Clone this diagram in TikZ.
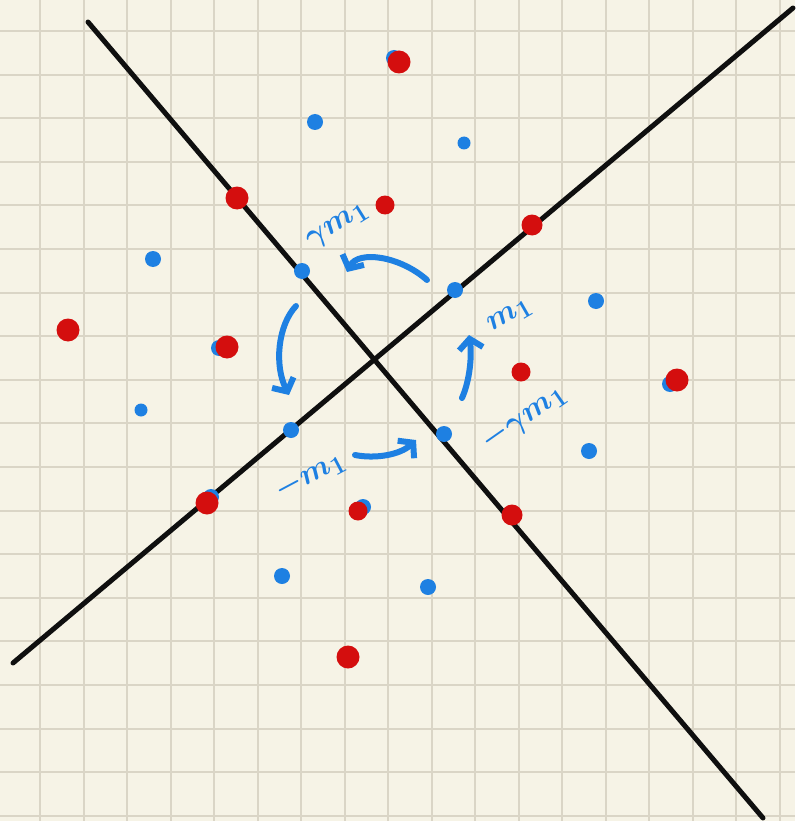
\documentclass[tikz,border=0pt]{standalone}
\usepackage{tikz}
\usetikzlibrary{arrows.meta}
\definecolor{Paper}{RGB}{246,243,230}
\definecolor{Grid}{RGB}{218,213,198}
\definecolor{Ink}{RGB}{15,15,15}
\definecolor{Pen}{RGB}{30,128,226}
\definecolor{Dot}{RGB}{212,14,14}

\begin{document}
\begin{tikzpicture}[x=1pt,y=1pt,
 rd/.style={circle,fill=Dot,inner sep=0pt,minimum size=23pt},
 bd/.style={circle,fill=Pen,inner sep=0pt,minimum size=16pt},
 ax/.style={line width=5pt,Ink,line cap=round},
 sw/.style={-{Straight Barb[length=10pt,width=24pt]},line width=6pt,Pen,line cap=round},
 lab/.style={Pen,inner sep=0pt,scale=1.25,transform shape,font=\Huge\boldmath}]
\fill[Paper] (0,0) rectangle (795,-821);
\useasboundingbox (0,0) rectangle (795,-821);
% squared paper
\foreach \i in {0,...,17} \draw[Grid,line width=2pt] (40+43.5*\i,0) -- (40+43.5*\i,-821);
\foreach \j in {0,...,18} \draw[Grid,line width=2pt] (0,-31-43.6*\j) -- (795,-31-43.6*\j);
% the two lines
\coordinate (a0) at (88,-22); \coordinate (a1) at (763,-818);
\coordinate (b0) at (13,-663); \coordinate (b1) at (793,-8);
\draw[ax] (a0) -- (a1);
\draw[ax] (b0) -- (b1);
% blue points
\node[bd] (b1p) at (315,-122) {};
\node[bd,minimum size=13pt] (b2p) at (464,-143) {};
\node[bd] (b3p) at (153,-259) {};
\node[bd] (b4p) at (302,-271) {};
\node[bd] (b5p) at (455,-290) {};
\node[bd] (b6p) at (596,-301) {};
\node[bd,minimum size=13pt] (b7p) at (141,-410) {};
\node[bd] (b8p) at (291,-430) {};
\node[bd] (b9p) at (444,-434) {};
\node[bd] (b10p) at (589,-451) {};
\node[bd] (b11p) at (282,-576) {};
\node[bd] (b12p) at (428,-587) {};
% blue under red
\node[bd] (s1) at (394,-58) {};
\node[bd] (s2) at (219,-348) {};
\node[bd] (s3) at (670,-384) {};
\node[bd] (s4) at (211,-497) {};
\node[bd] (s5) at (363,-507) {};
% red points
\node[rd] (r1) at (399,-62) {};
\node[rd] (r2) at (237,-198) {};
\node[rd,minimum size=19pt] (r3) at (385,-205) {};
\node[rd,minimum size=21pt] (r4) at (532,-225) {};
\node[rd] (r5) at (68,-330) {};
\node[rd] (r6) at (227,-347) {};
\node[rd,minimum size=19pt] (r7) at (521,-372) {};
\node[rd] (r8) at (677,-380) {};
\node[rd] (r9) at (207,-503) {};
\node[rd,minimum size=19pt] (r10) at (358,-511) {};
\node[rd,minimum size=21pt] (r11) at (512,-515) {};
\node[rd] (r12) at (348,-657) {};
% turning arrows
\coordinate (t0) at (427,-280); \coordinate (t1) at (347,-272);
\coordinate (l0) at (296,-306); \coordinate (l1) at (289,-395);
\coordinate (u0) at (355,-455); \coordinate (u1) at (416,-440);
\coordinate (q0) at (462,-398); \coordinate (q1) at (469,-335);
\draw[sw] (t0) .. controls (400,-256) and (358,-250) .. (t1);
\draw[sw] (l0) .. controls (278,-325) and (274,-365) .. (l1);
\draw[sw] (u0) .. controls (375,-459) and (400,-455) .. (u1);
\draw[sw] (q0) .. controls (470,-380) and (472,-355) .. (q1);
% labels
\node[lab,rotate=32] (g1) at (338,-226) {$\gamma m_{1}$};
\node[lab,rotate=30] (g2) at (510,-316) {$m_{1}$};
\node[lab,rotate=35] (g3) at (524,-418) {$-\gamma m_{1}$};
\node[lab,rotate=28] (g4) at (310,-476) {$-m_{1}$};
\end{tikzpicture}
\end{document}
